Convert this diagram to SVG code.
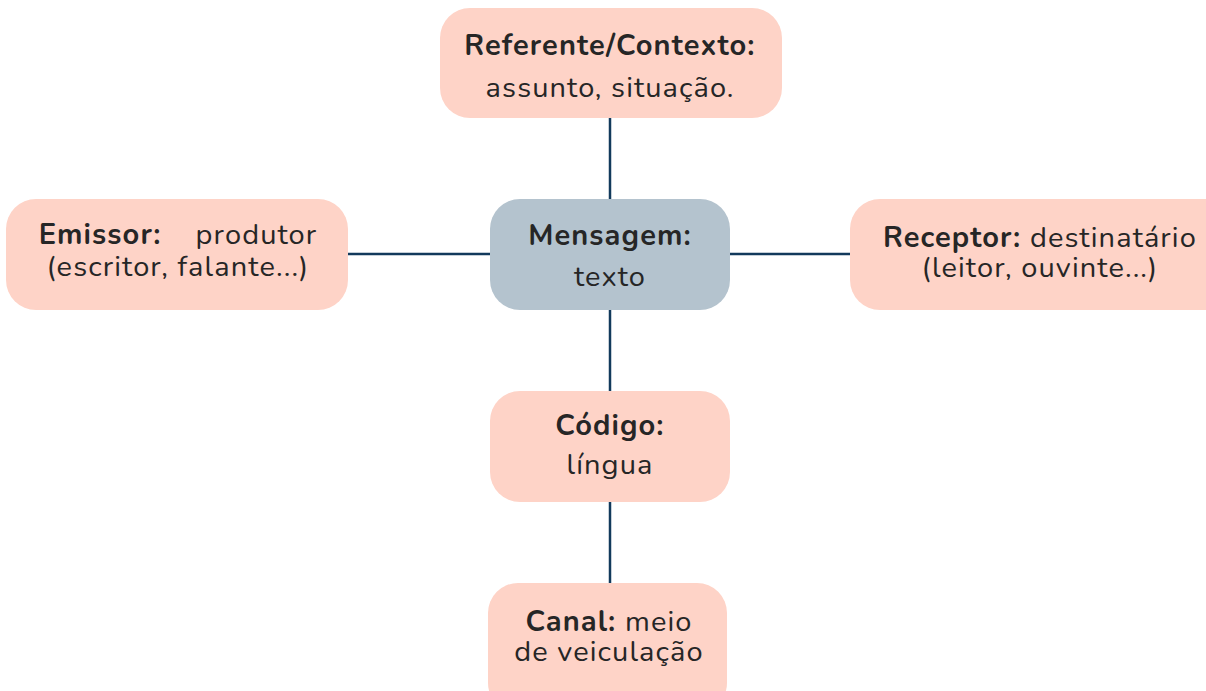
<svg xmlns="http://www.w3.org/2000/svg" width="1206" height="691" viewBox="0 0 1206 691">
<style>
.pk{fill:#FED3C7}
.gr{fill:#B4C3CE}
text{font-family:"Nunito","Lato","Noto Sans",sans-serif;font-size:29px;letter-spacing:1.1px;fill:#262626;text-anchor:middle}
.b{font-weight:bold}
.c{stroke:#123A5C;stroke-width:2.5;fill:none}
</style>
<rect width="1206" height="691" fill="#FFFFFF"/>
<g id="connectors">
<line class="c" x1="610" y1="118" x2="610" y2="199"/>
<line class="c" x1="610" y1="310" x2="610" y2="391"/>
<line class="c" x1="610" y1="502" x2="610" y2="583"/>
<line class="c" x1="348" y1="254" x2="490" y2="254"/>
<line class="c" x1="730" y1="254" x2="850" y2="254"/>
</g>
<g id="referente">
<rect class="pk" x="440" y="8" width="342" height="110" rx="30"/>
<text x="610" y="55" class="b">Referente/Contexto:</text>
<text x="610" y="97">assunto, situação.</text>
</g>
<g id="emissor">
<rect class="pk" x="6" y="199" width="342" height="111" rx="30"/>
<text x="178" y="244"><tspan class="b">Emissor:</tspan><tspan dx="34">produtor</tspan></text>
<text x="178" y="276">(escritor, falante...)</text>
</g>
<g id="mensagem">
<rect class="gr" x="490" y="199" width="240" height="111" rx="30"/>
<text x="610" y="245" class="b">Mensagem:</text>
<text x="610" y="286">texto</text>
</g>
<g id="receptor">
<rect class="pk" x="850" y="199" width="390" height="111" rx="30"/>
<text x="1040" y="247"><tspan class="b">Receptor:</tspan> destinatário</text>
<text x="1040" y="277">(leitor, ouvinte...)</text>
</g>
<g id="codigo">
<rect class="pk" x="490" y="391" width="240" height="111" rx="30"/>
<text x="610" y="435" class="b">Código:</text>
<text x="610" y="474">língua</text>
</g>
<g id="canal">
<rect class="pk" x="488" y="583" width="239" height="130" rx="30"/>
<text x="609" y="631"><tspan class="b">Canal:</tspan> meio</text>
<text x="609" y="661">de veiculação</text>
</g>
</svg>
